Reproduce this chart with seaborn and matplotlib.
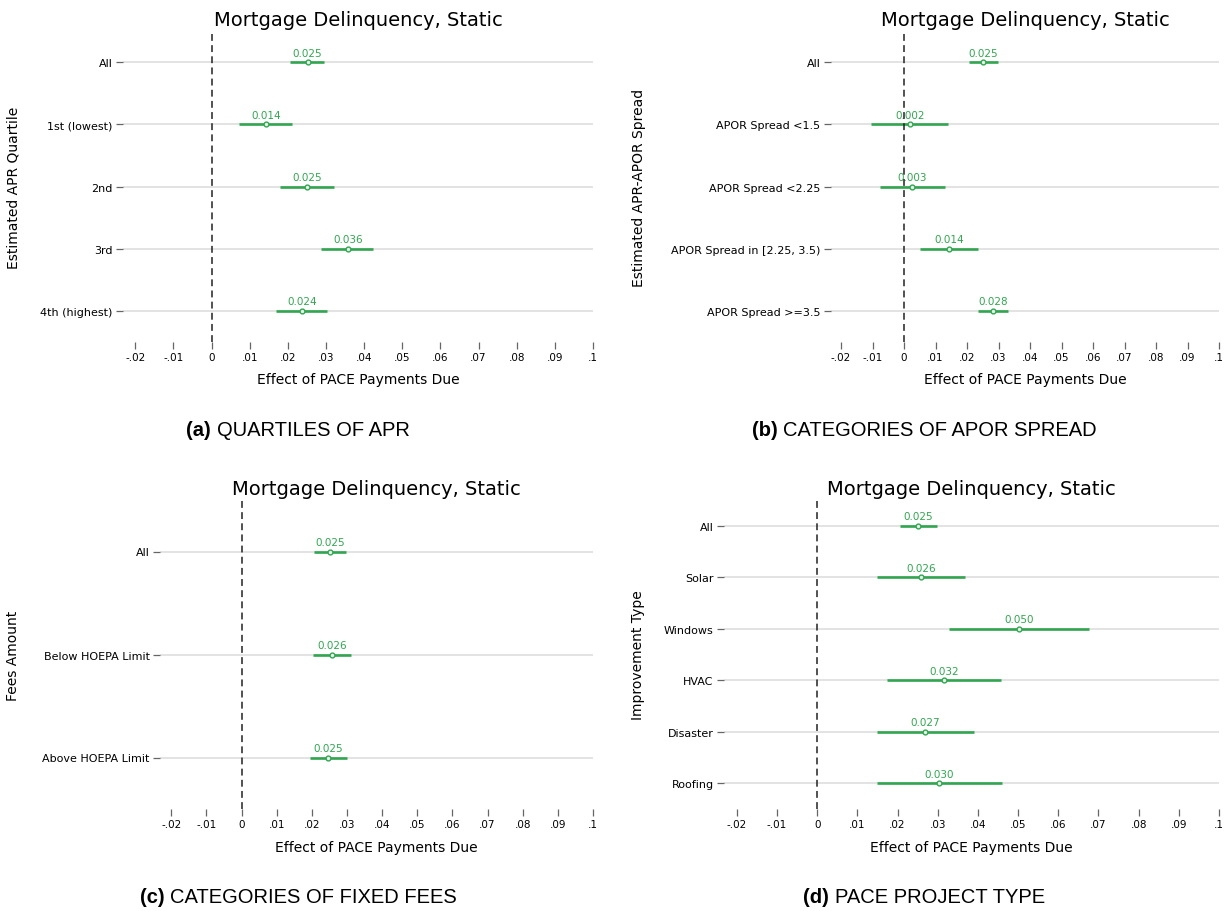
import matplotlib
matplotlib.use("Agg")
import matplotlib.pyplot as plt
import seaborn as sns
import pandas as pd

# ---------------- data ----------------
apr_cats = ["All", "1st (lowest)", "2nd", "3rd", "4th (highest)"]
apr_est = [0.0252, 0.0143, 0.0251, 0.0358, 0.0237]
apr_lo = [0.0206, 0.0073, 0.0180, 0.0288, 0.0169]
apr_hi = [0.0296, 0.0212, 0.0321, 0.0423, 0.0304]

apor_cats = ["All", "APOR Spread <1.5", "APOR Spread <2.25",
             "APOR Spread in [2.25, 3.5)", "APOR Spread >=3.5"]
apor_est = [0.0252, 0.0019, 0.0026, 0.0142, 0.0282]
apor_lo = [0.0206, -0.0105, -0.0078, 0.0050, 0.0235]
apor_hi = [0.0298, 0.0141, 0.0130, 0.0235, 0.0329]

fees_cats = ["All", "Below HOEPA Limit", "Above HOEPA Limit"]
fees_est = [0.0252, 0.0257, 0.0247]
fees_lo = [0.0206, 0.0202, 0.0195]
fees_hi = [0.0296, 0.0312, 0.0300]

proj_cats = ["All", "Solar", "Windows", "HVAC", "Disaster", "Roofing"]
proj_est = [0.0252, 0.0258, 0.0503, 0.0316, 0.0269, 0.0304]
proj_lo = [0.0206, 0.0148, 0.0329, 0.0174, 0.0150, 0.0150]
proj_hi = [0.0297, 0.0368, 0.0676, 0.0457, 0.0389, 0.0460]

xtick_vals = [-0.02, -0.01, 0.0, 0.01, 0.02, 0.03, 0.04, 0.05, 0.06, 0.07, 0.08, 0.09, 0.1]
xtick_labels = ["-.02", "-.01", "0", ".01", ".02", ".03", ".04", ".05", ".06",
                ".07", ".08", ".09", ".1"]

title_text = "Mortgage Delinquency, Static"
xlabel_text = "Effect of PACE Payments Due"
ylabels = ["Estimated APR Quartile", "Estimated APR-APOR Spread",
           "Fees Amount", "Improvement Type"]
cap_letters = ["a", "b", "c", "d"]
cap_texts = ["QUARTILES OF APR", "CATEGORIES OF APOR SPREAD",
             "CATEGORIES OF FIXED FEES", "PACE PROJECT TYPE"]

# ---------------- style ----------------
sns.set_style("white")
plt.rcParams["font.family"] = ["DejaVu Sans"]
plt.rcParams["text.color"] = "black"
plt.rcParams["axes.labelcolor"] = "black"
plt.rcParams["xtick.color"] = "black"
plt.rcParams["ytick.color"] = "black"

W, H = 1225, 912
GREEN = "#30a650"
XMIN, XMAX = -0.0232, 0.1

fig = plt.figure(figsize=(W / 100, H / 100), dpi=100)


def rect(x0, x1, y0, y1):
    return [x0 / W, 1 - y1 / H, (x1 - x0) / W, (y1 - y0) / H]


panels = [
    (apr_cats, apr_est, apr_lo, apr_hi, rect(123, 593, 32, 343), -0.219, -0.0965),
    (apor_cats, apor_est, apor_lo, apor_hi, rect(831, 1219, 32, 343), -0.477, -0.0965),
    (fees_cats, fees_est, fees_lo, fees_hi, rect(160, 593, 501, 810), -0.323, -0.1003),
    (proj_cats, proj_est, proj_lo, proj_hi, rect(724, 1219, 501, 810), -0.160, -0.1003),
]

for k, (cats, est, lo, hi, r, ylx, xly) in enumerate(panels):
    ax = fig.add_axes(r)
    df = pd.DataFrame({"cat": cats, "est": est, "lo": lo, "hi": hi})
    ypos = list(range(len(cats)))
    ax.hlines(ypos, df["lo"], df["hi"], color=GREEN, lw=1.9, zorder=3)
    sns.scatterplot(data=df, x="est", y="cat", ax=ax, marker="o", s=12,
                    facecolor="#e8f5eb", edgecolor=GREEN, linewidth=1.0, zorder=4)
    for i, e in enumerate(est):
        ax.annotate(f"{e:.3f}", (e, i), xytext=(0, 3.2), textcoords="offset points",
                    ha="center", va="bottom", color=GREEN, fontsize=7.5, zorder=5)
    ax.axvline(0, color="#222222", lw=1.1, ls=(0, (4.5, 2.8)), zorder=6)
    ax.set_xlim(XMIN, XMAX)
    ax.set_ylim(len(cats) - 0.5, -0.5)
    ax.set_yticks(ypos)
    ax.set_yticklabels(cats, fontsize=8)
    ax.set_xticks(xtick_vals)
    ax.set_xticklabels(xtick_labels, fontsize=7.5)
    ax.grid(axis="y", color="#e3e3e3", lw=1.4)
    ax.grid(axis="x", visible=False)
    ax.set_axisbelow(True)
    sns.despine(ax=ax, left=True, bottom=True, top=True, right=True)
    ax.tick_params(axis="both", which="major", bottom=True, left=True,
                   length=5, width=0.9, color="#666666",
                   labelcolor="black", pad=2.5)
    ax.set_title(title_text, fontsize=14, pad=4, color="black")
    ax.set_xlabel(xlabel_text, fontsize=10)
    ax.set_ylabel(ylabels[k], fontsize=10)
    ax.yaxis.set_label_coords(ylx, 0.5)
    ax.xaxis.set_label_coords(0.5, xly)

# ---------------- captions ----------------
renderer = fig.canvas.get_renderer()
CAP_FS = 14.5
cap_pos = [(298, 430), (924, 430), (298, 898), (924, 898)]
for (xc, yc), letter, text in zip(cap_pos, cap_letters, cap_texts):
    t1 = fig.text(0, 1 - yc / H, f"({letter})", fontsize=CAP_FS, fontweight="bold",
                  family="Liberation Sans", va="center", ha="left", color="black")
    t2 = fig.text(0, 1 - yc / H, text, fontsize=CAP_FS,
                  family="Liberation Sans", va="center", ha="left", color="black")
    w1 = t1.get_window_extent(renderer).width
    w2 = t2.get_window_extent(renderer).width
    gap = 0.278 * CAP_FS * 100 / 72
    x0 = xc - (w1 + gap + w2) / 2
    t1.set_x(x0 / W)
    t2.set_x((x0 + w1 + gap) / W)

fig.savefig("out.png", dpi=100)
